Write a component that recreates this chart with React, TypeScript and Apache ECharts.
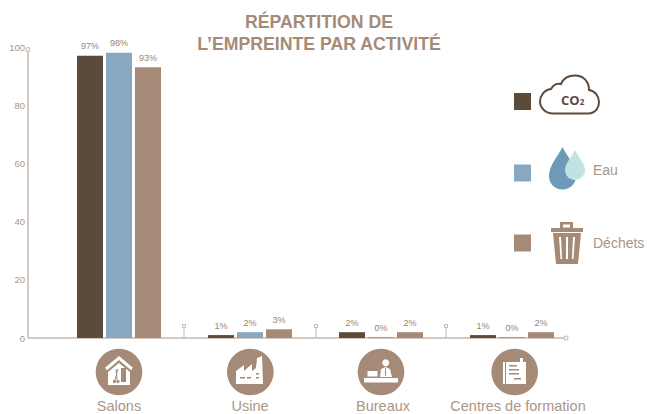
import React, { useEffect, useRef } from "react";
import * as echarts from "echarts";

const categories = ["Salons", "Usine", "Bureaux", "Centres de formation"];
const co2Values = [97, 1, 2, 1];
const eauValues = [98, 2, 0, 0];
const dechetsValues = [93, 3, 2, 2];
const yTicks = { min: 0, max: 100, interval: 20 };

const DARK = "#5c4a3b";
const BLUE = "#88a8c2";
const BROWN = "#a58b77";
const TEXT = "#ab9686";
const AXIS = "#c8b8ab";
const FONT = "'Liberation Sans', Arial, sans-serif";

echarts.graphic.registerShape("cloud", echarts.graphic.extendPath("M553 113.5 H588 C596 113.5 599 107 599 102 C599 96 595 91 589 90 C589 81 583 75.5 575 75.5 C568 75.5 563 79 561 84 C557 83 553 85 551 89 C544 90 540 96 540 101.5 C540 108 546 113.5 553 113.5 Z", {}));
echarts.graphic.registerShape("dropBig", echarts.graphic.extendPath("M562.5 147 C566 155 576 165 576 176 C576 184 570 189.5 562.5 189.5 C555 189.5 549 184 549 176 C549 165 559 155 562.5 147 Z", {}));
echarts.graphic.registerShape("dropSmall", echarts.graphic.extendPath("M575 150 C578 157 585 163 585 170 C585 176 580 180 575 180 C570 180 565 176 565 170 C565 163 572 157 575 150 Z", {}));
echarts.graphic.registerShape("factory", echarts.graphic.extendPath("M236 384 V371 L244 365 V371 L252 364 V371 L256 368 L257 358 L262 356 L263 384 Z", {}));

const poly = (points: number[][], fill: string) => ({ type: "polygon", shape: { points }, style: { fill } });
const box = (x: number, y: number, width: number, height: number, fill: string) => ({ type: "rect", shape: { x, y, width, height }, style: { fill } });
const seg = (x1: number, y1: number, x2: number, y2: number, stroke: string, lineWidth = 1) => ({ type: "line", shape: { x1, y1, x2, y2 }, style: { stroke, lineWidth } });
const disc = (cx: number, cy: number, r: number, fill: string) => ({ type: "circle", shape: { cx, cy, r }, style: { fill } });
const hollow = (x: number, y: number, s: number) => ({ type: "rect", shape: { x: x - s / 2, y: y - s / 2, width: s, height: s }, style: { fill: "#fff", stroke: AXIS, lineWidth: 1 } });

const separators = [184, 316, 446];

const decorations: any[] = [
  seg(28, 49, 28, 338, AXIS, 1.5),
  seg(28, 338, 566, 338, AXIS, 1.5),
  hollow(28, 49.5, 3.5),
  hollow(566, 338, 3.5),
  ...separators.flatMap((x) => [seg(x, 328, x, 338, AXIS, 1), hollow(x, 326, 3)]),
  // cloud
  { type: "cloud", style: { fill: "#fff", stroke: DARK, lineWidth: 2 } },
  // drops
  { type: "dropBig", style: { fill: "#6f99b9" } },
  { type: "dropSmall", style: { fill: "#bfe3e2" } },
  // trash
  box(560, 222, 13, 7, BROWN), box(563, 224.5, 7, 3, "#fff"),
  box(551, 228, 32, 4, BROWN),
  poly([[553, 233], [581, 233], [578, 264], [556, 264]], BROWN),
  poly([[559, 237], [561, 237], [562, 259], [560.5, 259]], "#fff"),
  poly([[566, 237], [568, 237], [568, 259], [566, 259]], "#fff"),
  poly([[573, 237], [575, 237], [573.5, 259], [572, 259]], "#fff"),
  // salons
  disc(119, 372, 23.3, BROWN),
  { type: "polyline", shape: { points: [[106, 369], [119, 358], [132, 369]] }, style: { stroke: "#fff", lineWidth: 3, fill: "none" } },
  poly([[108, 372], [119, 363], [130, 372], [130, 385], [108, 385]], "#fff"),
  box(121, 368, 5, 14, BROWN),
  seg(116, 369, 117, 380, BROWN, 1), seg(118, 369, 115, 380, BROWN, 1),
  disc(114.5, 381.5, 1.6, BROWN), disc(118, 381.5, 1.6, BROWN),
  // usine
  disc(250.3, 372, 23.3, BROWN),
  { type: "factory", style: { fill: "#fff" } },
  box(240, 377, 5, 1.5, BROWN), box(247, 377, 4, 1.5, BROWN),
  box(256, 373, 3, 1.5, BROWN), box(256, 377, 3, 1.5, BROWN),
  // bureaux
  disc(381, 372, 23.3, BROWN),
  disc(385.7, 362.7, 3.5, "#fff"),
  poly([[380, 377], [381, 369], [385.5, 367], [390, 369], [392, 377]], "#fff"),
  seg(385.5, 368, 385.5, 376, BROWN, 1),
  { type: "rect", shape: { x: 367.5, y: 371, width: 10, height: 5.5 }, style: { fill: "#fff" } },
  box(364, 378, 34, 4.5, "#fff"),
  // centres
  disc(514.7, 372, 23.3, BROWN),
  box(503, 362, 23, 22, "#fff"),
  seg(505.5, 362, 505.5, 384, BROWN, 1),
  box(509, 365, 8, 1.5, BROWN), box(509, 369, 10, 1.5, BROWN), box(509, 373, 10, 1.5, BROWN), box(514, 378, 7, 1.5, BROWN),
  box(520, 358, 3, 9, "#fff"),
].map((el) => ({ z: -1, silent: true, ...el }));

const series = [
  { name: "CO2", data: co2Values, color: DARK, minH: 0 },
  { name: "Eau", data: eauValues, color: BLUE, minH: 1 },
  { name: "Déchets", data: dechetsValues, color: BROWN, minH: 0 },
];

export default function App() {
  const ref = useRef<HTMLDivElement>(null);
  useEffect(() => {
    const chart = echarts.init(ref.current!, undefined, { renderer: "svg" });
    chart.setOption({
      animation: false,
      backgroundColor: "#fff",
      textStyle: { fontFamily: FONT },
      title: {
        text: "RÉPARTITION DE\nL’EMPREINTE PAR ACTIVITÉ",
        left: 314,
        top: 6,
        textAlign: "center",
        textStyle: { fontFamily: FONT, fontSize: 17.7, fontWeight: "bold", color: BROWN, lineHeight: 22 },
      },
      legend: {
        left: 509,
        top: 88,
        orient: "vertical",
        itemWidth: 17,
        itemHeight: 17,
        itemGap: 53,
        icon: "rect",
        selectedMode: false,
        data: series.map((s) => s.name),
        formatter: (name: string) => (name === "CO2" ? "{co|CO}{sub|2}" : name === "Eau" ? `{e|${name}}` : `{t|${name}}`),
        textStyle: {
          rich: {
            co: { fontFamily: "'Open Sans', sans-serif", fontSize: 13, fontWeight: "bold", color: DARK, padding: [0, 0, 4, 25] },
            sub: { fontFamily: "'Open Sans', sans-serif", fontSize: 8, fontWeight: "bold", color: DARK, padding: [0, 0, 0, 0] },
            e: { fontFamily: FONT, fontSize: 14, color: TEXT, padding: [0, 0, 6, 57] },
            t: { fontFamily: FONT, fontSize: 14, color: TEXT, padding: [0, 0, 0, 57] },
          },
        },
      },
      grid: { left: 53.5, width: 524, top: 47, height: 291, outerBoundsMode: "none" },
      xAxis: {
        type: "category",
        data: categories,
        axisLine: { show: false },
        axisTick: { show: false },
        axisLabel: {
          margin: 60,
          fontFamily: FONT,
          fontSize: 14.5,
          color: TEXT,
          interval: 0,
          formatter: (v: string) => (v === categories[3] ? `{last|${v}}` : v === categories[2] ? `{mid|${v}}` : v),
          rich: {
            last: { fontFamily: FONT, fontSize: 14.5, color: TEXT, padding: [0, 0, 0, 12] },
            mid: { fontFamily: FONT, fontSize: 14.5, color: TEXT, padding: [0, 0, 0, 4] },
          },
        },
      },
      yAxis: {
        type: "value",
        min: yTicks.min,
        max: yTicks.max,
        interval: yTicks.interval,
        offset: 25.5,
        splitLine: { show: false },
        axisTick: { show: false },
        axisLine: { show: false },
        axisLabel: { margin: 3, fontFamily: FONT, fontSize: 9.5, color: TEXT, padding: [2, 0, 0, 0] },
      },
      series: series.map((s) => ({
        name: s.name,
        type: "bar",
        data: s.data,
        barWidth: 26,
        barGap: "11.5%",
        barMinHeight: s.minH,
        itemStyle: { color: s.color },
        label: { show: true, position: "top", distance: 5, formatter: "{c}%", fontFamily: FONT, fontSize: 9, color: "#9a8474" },
      })),
      graphic: { elements: decorations },
    });
    return () => chart.dispose();
  }, []);
  return <div ref={ref} style={{ position: "fixed", left: 0, top: 0, width: 647, height: 414 }} />;
}
